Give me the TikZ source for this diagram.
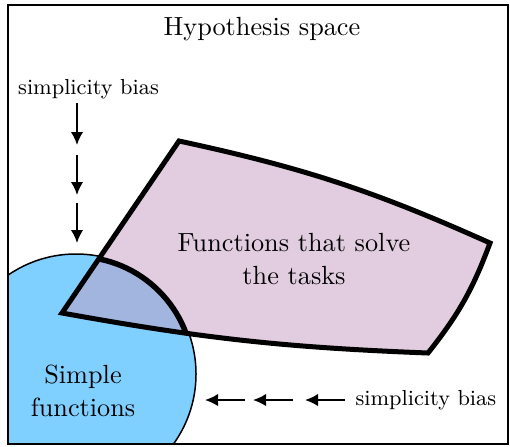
\documentclass[tikz,border=0pt]{standalone}
\usetikzlibrary{arrows.meta}
\definecolor{simpleblue}{RGB}{128,208,255}
\definecolor{taskpink}{RGB}{226,205,224}
\definecolor{overlapc}{RGB}{162,181,222}
\begin{document}
\begin{tikzpicture}[x=0.4pt,y=-0.4pt,
  bigtext/.style={font=\fontsize{10.5}{13.5}\selectfont, align=center, inner sep=0pt},
  smalltext/.style={font=\fontsize{8.7}{10}\selectfont, inner sep=0pt},
  biasarrow/.style={line width=0.8pt, -{Latex[length=5.2pt,width=5pt]}},
  thickedge/.style={line width=2pt, line join=miter},
]
\useasboundingbox (0,0) rectangle (510,446);
\coordinate (apex) at (62,313);
\coordinate (tp) at (179,141);
\coordinate (rt) at (490,243);
\coordinate (rb) at (428,353);
\coordinate (cc) at (76,374);
% simple functions disc
\begin{scope}
  \clip (8,5) rectangle (508,444);
  \draw[fill=simpleblue, line width=0.6pt] (cc) circle (120);
\end{scope}
% task region
\fill[taskpink] (apex) -- (tp) to[bend left=6] (rt) to[bend left=9] (rb) to[bend left=4] cycle;
\begin{scope}
  \clip (cc) circle (120);
  \fill[overlapc] (apex) -- (tp) to[bend left=6] (rt) to[bend left=9] (rb) to[bend left=4] cycle;
\end{scope}
\begin{scope}
  \clip (apex) -- (tp) to[bend left=6] (rt) to[bend left=9] (rb) to[bend left=4] cycle;
  \draw[line width=2.2pt] (cc) circle (117.3);
\end{scope}
\draw[thickedge] (apex) -- (tp) to[bend left=6] (rt) to[bend left=9] (rb) to[bend left=4] cycle;
% frame
\draw[line width=0.8pt] (8,5) rectangle (508,444);
% texts
\node[bigtext] (title) at (262,29) {Hypothesis space};
\node[bigtext] (tasks) at (294,259) {Functions that solve\\the tasks};
\node[bigtext] (simple) at (83,391) {Simple\\functions};
\node[smalltext] (biastop) at (88.5,89) {simplicity bias};
\node[smalltext, anchor=west] (biasright) at (355,400) {simplicity bias};
% vertical arrows
\coordinate (va1) at (77,103); \coordinate (vb1) at (77,145);
\coordinate (va2) at (77,155); \coordinate (vb2) at (77,195);
\coordinate (va3) at (77,203); \coordinate (vb3) at (77,243);
\draw[biasarrow] (va1) -- (vb1);
\draw[biasarrow] (va2) -- (vb2);
\draw[biasarrow] (va3) -- (vb3);
% horizontal arrows
\coordinate (ha1) at (345,400); \coordinate (hb1) at (305,400);
\coordinate (ha2) at (293,400); \coordinate (hb2) at (253,400);
\coordinate (ha3) at (245,400); \coordinate (hb3) at (205,400);
\draw[biasarrow] (ha1) -- (hb1);
\draw[biasarrow] (ha2) -- (hb2);
\draw[biasarrow] (ha3) -- (hb3);
\end{tikzpicture}
\end{document}
